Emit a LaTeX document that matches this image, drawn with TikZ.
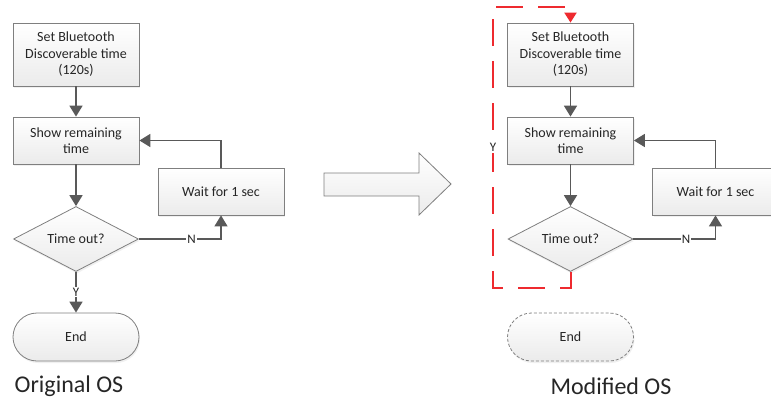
\documentclass[tikz,border=0pt]{standalone}
\usepackage{fontspec}
\setmainfont{Carlito}
\usetikzlibrary{shapes.geometric,shapes.misc,arrows.meta,shadows}

\definecolor{boxline}{HTML}{7F7F7F}
\definecolor{boxfill}{HTML}{EBEBEB}
\definecolor{flowline}{HTML}{595959}
\definecolor{loopred}{HTML}{EE2A2F}

\begin{document}
\begin{tikzpicture}[x=1pt,y=-1pt,
	stepbox/.style={draw=boxline, line width=0.8pt, top color=white, bottom color=boxfill,
		minimum width=126pt, align=center, inner sep=0pt, text=black!85,
		font=\fontsize{14}{16.5}\selectfont,
		drop shadow={opacity=0.12, shadow xshift=1pt, shadow yshift=-2pt}},
	decision/.style={stepbox, diamond, aspect=1.9, minimum width=125pt, minimum height=65pt},
	endcap/.style={stepbox, rounded rectangle, minimum height=48pt},
	flow/.style={draw=flowline, line width=1.8pt, -{Triangle[width=13pt,length=11pt]}},
	flowthin/.style={flow, line width=1.3pt},
	redloop/.style={draw=loopred, line width=2pt, dash pattern=on 27pt off 15pt,
		-{Triangle[width=12pt,length=10pt]}},
	lbl/.style={fill=white, inner sep=1pt, text=black!85, font=\fontsize{13}{15}\selectfont},
	caption/.style={font=\fontsize{24}{28}\selectfont, text=black!85}]
	\clip (0,0) rectangle (771,404);

	% original OS
	\node[stepbox, minimum height=63pt] (setL) at (76,54.5) {Set Bluetooth\\Discoverable time\\(120s)};
	\node[stepbox, minimum height=47pt] (showL) at (76,140.5) {Show remaining\\time};
	\node[stepbox, minimum height=47pt] (waitL) at (221,191.5) {Wait for 1 sec};
	\node[decision] (timeL) at (76,239) {Time out?};
	\node[endcap] (endL) at (76,337) {End};
	\node[caption] (capL) at (69,386) {Original OS};

	\draw[flow] (setL) -- (showL);
	\draw[flow] (showL) -- (timeL);
	\draw[flow] (waitL.north) |- (showL.east);
	\draw[flowthin] (timeL.east) -| node[lbl, pos=0.32] {N} (waitL.south);
	\draw[flow] (timeL) -- node[lbl] {Y} (endL);

	% big arrow between the two
	\draw[draw=boxline, line width=0.8pt, top color=white, bottom color=boxfill]
		(324,173) -- (419,173) -- (419,153) -- (451,184) -- (419,215) -- (419,196) -- (324,196) -- cycle;

	% modified OS
	\node[stepbox, minimum height=63pt] (setR) at (570.5,54.5) {Set Bluetooth\\Discoverable time\\(120s)};
	\node[stepbox, minimum height=47pt] (showR) at (570.5,140.5) {Show remaining\\time};
	\node[stepbox, minimum height=47pt] (waitR) at (715.5,191.5) {Wait for 1 sec};
	\node[decision] (timeR) at (570.5,239) {Time out?};
	\node[endcap, dash pattern=on 3pt off 2pt] (endR) at (570.5,337) {End};
	\node[caption] (capR) at (611,386) {Modified OS};

	\draw[flow] (setR) -- (showR);
	\draw[flow] (showR) -- (timeR);
	\draw[flow] (waitR.north) |- (showR.east);
	\draw[flowthin] (timeR.east) -| node[lbl, pos=0.32] {N} (waitR.south);

	\coordinate (redlow) at (570.5,288);
	\coordinate (redtop) at (493,7);
	\draw[redloop] (timeR.south) -- (redlow) -| node[lbl, pos=0.75] {Y} (redtop) -| (setR.north);
\end{tikzpicture}
\end{document}
